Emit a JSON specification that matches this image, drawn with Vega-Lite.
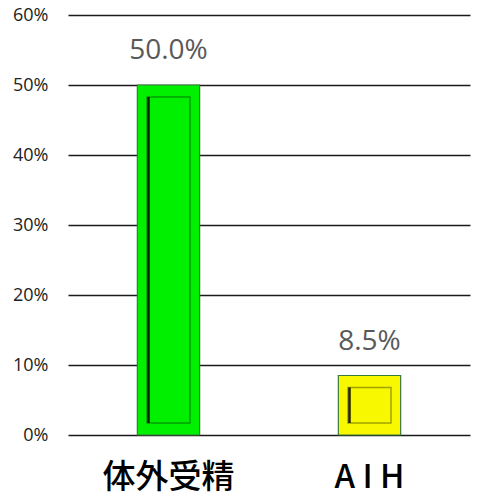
{
  "$schema": "https://vega.github.io/schema/vega-lite/v6.json",
  "width": 402,
  "height": 420,
  "autosize": "none",
  "padding": {"left": 68, "top": 15, "right": 9, "bottom": 64},
  "data": {"values": [
    {"cat": "体外受精", "rate": 0.5},
    {"cat": "A I H", "rate": 0.085}
  ]},
  "encoding": {
    "x": {"field": "cat", "type": "nominal", "sort": null,
      "scale": {"paddingInner": 0.69, "paddingOuter": 0.345},
      "axis": {"title": null, "labelAngle": 0, "labelFontSize": 33, "labelFont": "Noto Sans CJK JP", "labelFontWeight": 500, "labelColor": "#000", "labelPadding": 26, "domain": false, "ticks": false}},
    "y": {"field": "rate", "type": "quantitative",
      "scale": {"domain": [0, 0.6], "nice": false},
      "axis": {"title": null, "values": [0, 0.1, 0.2, 0.3, 0.4, 0.5, 0.6], "format": ".0%", "labelFontSize": 18, "labelFont": "Open Sans", "labelColor": "#222", "labelPadding": 20, "domain": false, "ticks": false, "grid": true, "gridColor": "#1a1a1a", "gridWidth": 1.5}}
  },
  "layer": [
    {
      "mark": {"type": "bar", "stroke": "#3a7a3a", "strokeWidth": 1.2},
      "encoding": {"color": {"field": "cat", "type": "nominal", "legend": null,
        "scale": {"domain": ["体外受精", "A I H"], "range": ["#00f000", "#f8f800"]}}}
    },
    {
      "mark": {"type": "bar", "size": 43, "yOffset": 12, "y2Offset": -12, "fill": null, "fillOpacity": 0, "stroke": "#000", "strokeOpacity": 0.35, "strokeWidth": 1.5},
      "encoding": {"y2": {"datum": 0}}
    },
    {
      "mark": {"type": "bar", "size": 2.5, "xOffset": -20, "yOffset": 12, "y2Offset": -12, "color": "#000", "opacity": 0.85},
      "encoding": {"y2": {"datum": 0}}
    },
    {
      "mark": {"type": "text", "dy": -34, "fontSize": 28, "font": "Open Sans", "color": "#595959"},
      "encoding": {"text": {"field": "rate", "type": "quantitative", "format": ".1%"}}
    }
  ],
  "config": {"view": {"stroke": null}}
}
